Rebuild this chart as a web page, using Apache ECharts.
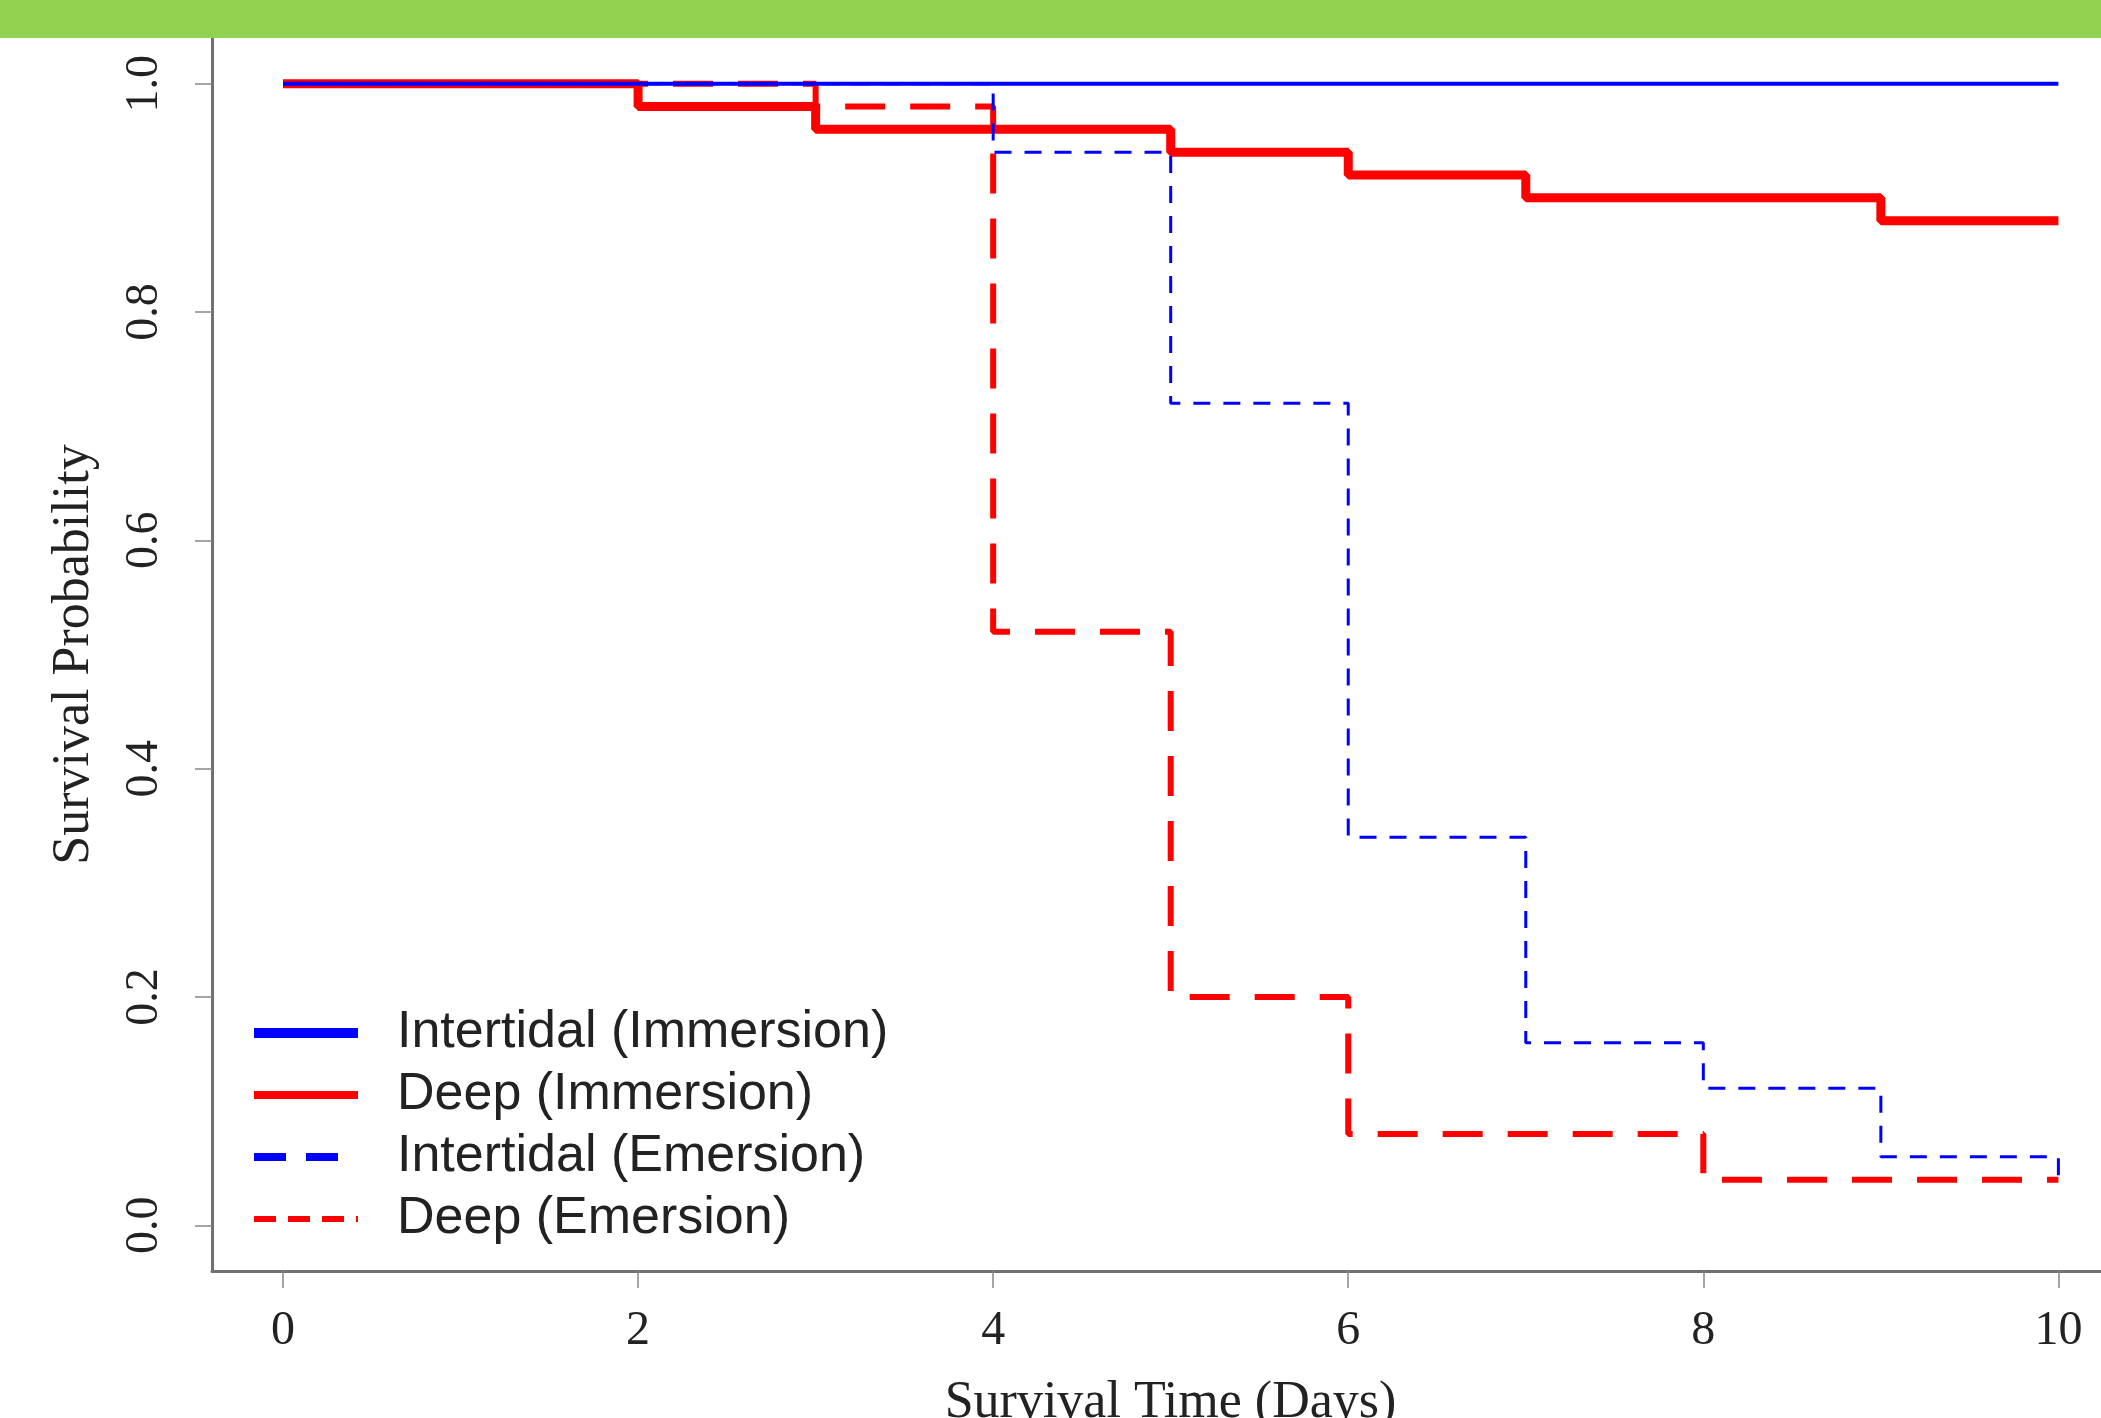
<!DOCTYPE html>
<html>
<head>
<meta charset="utf-8">
<script src="https://cdn.jsdelivr.net/npm/echarts@6/dist/echarts.min.js"></script>
<style>
  html, body { margin: 0; padding: 0; background: #fff; }
  #chart { width: 2101px; height: 1418px; }
</style>
</head>
<body>
<div id="chart"></div>
<script>
// Kaplan-Meier steps: times (days) and survival probability after each time
const intImmTimes = [0, 10]
const intImmSurv = [1, 1]
const deepImmTimes = [0, 2, 3, 5, 6, 7, 9, 10]
const deepImmSurv = [1, 0.98, 0.96, 0.94, 0.92, 0.90, 0.88, 0.88]
const intEmTimes = [0, 4, 5, 6, 7, 8, 9, 10]
const intEmSurv = [1, 0.94, 0.72, 0.34, 0.16, 0.12, 0.06, 0.04]
const deepEmTimes = [0, 3, 4, 5, 6, 8, 10]
const deepEmSurv = [1, 0.98, 0.52, 0.20, 0.08, 0.04, 0.04]

const xTicks = [0, 2, 4, 6, 8, 10]
const yTicks = [0, 0.2, 0.4, 0.6, 0.8, 1.0]

const seriesNames = ['Intertidal (Immersion)', 'Deep (Immersion)', 'Intertidal (Emersion)', 'Deep (Emersion)']

function pairs(t, s) {
  return t.map((v, i) => [v, s[i]])
}

const serif = 'Liberation Serif, Times New Roman, serif'
const sans = 'Liberation Sans, Arial, sans-serif'
const noDot = {opacity: 0}

let myChart = echarts.init(document.getElementById('chart'))
myChart.setOption({
  animation: false,
  backgroundColor: '#fff',
  graphic: [{
    type: 'rect',
    left: 0,
    top: 0,
    z: 100,
    shape: {width: 2101, height: 38},
    style: {fill: '#92D050'}
  }],
  grid: {
    left: 212,
    right: 0,
    top: 38,
    bottom: 147,
    containLabel: false,
    outerBoundsMode: 'none'
  },
  legend: {
    left: 244,
    top: 1002,
    orient: 'vertical',
    itemWidth: 104,
    itemHeight: 14,
    itemGap: 10,
    textStyle: {
      fontFamily: sans,
      fontSize: 52,
      lineHeight: 52,
      color: '#222',
      padding: [0, 0, 0, 34]
    },
    data: [
      {name: seriesNames[0], itemStyle: noDot, lineStyle: {width: 10, type: 'solid'}},
      {name: seriesNames[1], itemStyle: noDot, lineStyle: {width: 8, type: 'solid'}},
      {name: seriesNames[2], itemStyle: noDot, lineStyle: {width: 8, type: [32, 20]}},
      {name: seriesNames[3], itemStyle: noDot, lineStyle: {width: 6, type: [22, 12]}}
    ]
  },
  xAxis: {
    type: 'value',
    min: -0.4,
    max: 10.24,
    name: 'Survival Time (Days)',
    nameLocation: 'middle',
    nameGap: 106,
    nameTextStyle: {
      fontFamily: serif,
      fontSize: 52,
      color: '#222',
      padding: [0, 0, 0, 28]
    },
    axisLine: {
      show: true,
      onZero: false,
      lineStyle: {color: '#707070', width: 3}
    },
    axisTick: {
      show: true,
      customValues: xTicks,
      length: 17,
      lineStyle: {color: '#888', width: 1.5}
    },
    axisLabel: {
      customValues: xTicks,
      margin: 36,
      fontFamily: serif,
      fontSize: 48,
      color: '#222'
    },
    splitLine: {show: false}
  },
  yAxis: {
    type: 'value',
    min: -0.04,
    max: 1.04,
    name: 'Survival Probability',
    nameLocation: 'middle',
    nameGap: 112,
    nameTextStyle: {
      fontFamily: serif,
      fontSize: 52,
      color: '#222'
    },
    axisLine: {
      show: true,
      onZero: false,
      lineStyle: {color: '#707070', width: 3}
    },
    axisTick: {
      show: true,
      customValues: yTicks,
      length: 17,
      lineStyle: {color: '#888', width: 1.5}
    },
    axisLabel: {
      customValues: yTicks,
      rotate: 90,
      margin: 44,
      fontFamily: serif,
      fontSize: 46,
      color: '#222',
      formatter: v => v.toFixed(1)
    },
    splitLine: {show: false}
  },
  series: [{
    type: 'line',
    name: seriesNames[1],
    step: 'end',
    symbol: 'none',
    color: '#ff0000',
    lineStyle: {color: '#ff0000', width: 9},
    data: pairs(deepImmTimes, deepImmSurv)
  }, {
    type: 'line',
    name: seriesNames[3],
    step: 'end',
    symbol: 'none',
    color: '#ff0000',
    lineStyle: {color: '#ff0000', width: 6, type: [40, 25]},
    data: pairs(deepEmTimes, deepEmSurv)
  }, {
    type: 'line',
    name: seriesNames[2],
    step: 'end',
    symbol: 'none',
    color: '#0000ff',
    lineStyle: {color: '#0000ff', width: 3, type: [17, 13]},
    data: pairs(intEmTimes, intEmSurv)
  }, {
    type: 'line',
    name: seriesNames[0],
    step: 'end',
    symbol: 'none',
    color: '#0000ff',
    lineStyle: {color: '#0000ff', width: 4},
    data: pairs(intImmTimes, intImmSurv)
  }]
})
</script>
</body>
</html>
